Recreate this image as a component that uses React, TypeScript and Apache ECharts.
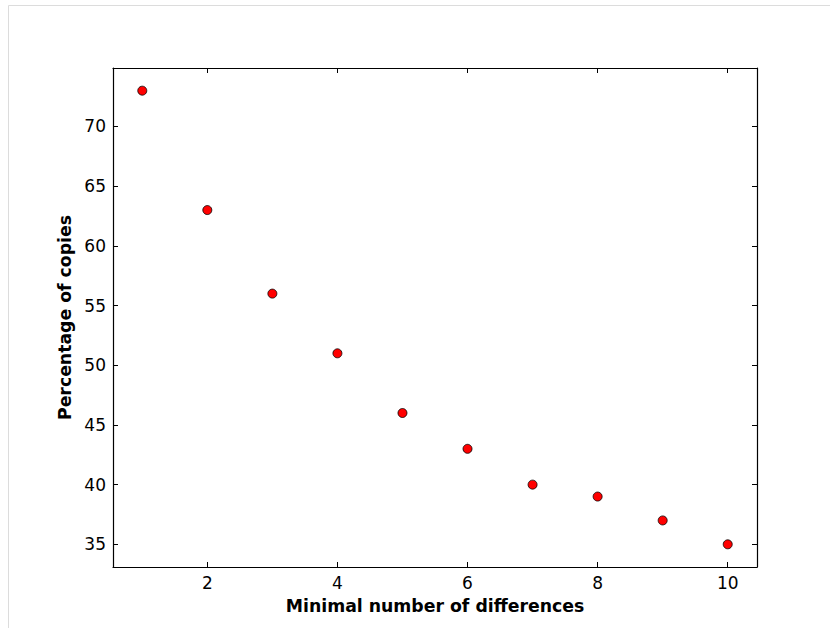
import React, { useEffect, useRef } from "react";
import * as echarts from "echarts";

const xValues = [1, 2, 3, 4, 5, 6, 7, 8, 9, 10];
const yValues = [73, 63, 56, 51, 46, 43, 40, 39, 37, 35];
const xTicks = [2, 4, 6, 8, 10];
const yTicks = [35, 40, 45, 50, 55, 60, 65, 70];
const xName = "Minimal number of differences";
const yName = "Percentage of copies";

const FONT = "DejaVu Sans";

export default function App() {
  const ref = useRef<HTMLDivElement>(null);
  useEffect(() => {
    if (!ref.current) return;
    const chart = echarts.init(ref.current, undefined, { renderer: "svg" });
    const tickStyle = { show: true, inside: true, length: 5, lineStyle: { color: "#000", width: 1 } };
    const lineStyle = { show: true, lineStyle: { color: "#000", width: 1.2 } };
    chart.setOption({
      animation: false,
      backgroundColor: "#fff",
      graphic: [
        {
          type: "rect",
          shape: { x: 8.5, y: 5.5, width: 900, height: 700 },
          style: { fill: "none", stroke: "#dcdcdc", lineWidth: 1 },
          silent: true,
        },
      ],
      grid: { left: 113, top: 68, width: 644, height: 499, containLabel: false },
      xAxis: [
        {
          type: "value",
          min: 0.55,
          max: 10.45,
          position: "bottom",
          axisLine: lineStyle,
          axisTick: { ...tickStyle, customValues: xTicks },
          axisLabel: { customValues: xTicks, color: "#000", fontFamily: FONT, fontSize: 17, margin: 7 },
          splitLine: { show: false },
          name: xName,
          nameLocation: "middle",
          nameGap: 30,
          nameTextStyle: { color: "#000", fontFamily: FONT, fontSize: 17.3, fontWeight: "bold" },
        },
        {
          type: "value",
          min: 0.55,
          max: 10.45,
          position: "top",
          axisLine: lineStyle,
          axisTick: { ...tickStyle, customValues: xTicks },
          axisLabel: { show: false },
          splitLine: { show: false },
        },
      ],
      yAxis: [
        {
          type: "value",
          min: 33.1,
          max: 74.9,
          position: "left",
          axisLine: lineStyle,
          axisTick: { ...tickStyle, customValues: yTicks },
          axisLabel: { customValues: yTicks, color: "#000", fontFamily: FONT, fontSize: 17, margin: 7 },
          splitLine: { show: false },
          name: yName,
          nameLocation: "middle",
          nameGap: 36,
          nameTextStyle: { color: "#000", fontFamily: FONT, fontSize: 17.3, fontWeight: "bold" },
        },
        {
          type: "value",
          min: 33.1,
          max: 74.9,
          position: "right",
          axisLine: lineStyle,
          axisTick: { ...tickStyle, customValues: yTicks },
          axisLabel: { show: false },
          splitLine: { show: false },
        },
      ],
      series: [
        {
          type: "scatter",
          xAxisIndex: 0,
          yAxisIndex: 0,
          data: xValues.map((x, i) => [x, yValues[i]]),
          symbol: "circle",
          symbolSize: 9,
          itemStyle: { color: "#ff0000", borderColor: "#000", borderWidth: 0.8, opacity: 1 },
        },
      ],
    });
    return () => chart.dispose();
  }, []);
  return (
    <div
      ref={ref}
      style={{ position: "fixed", left: 0, top: 0, width: 830, height: 628 }}
    />
  );
}
